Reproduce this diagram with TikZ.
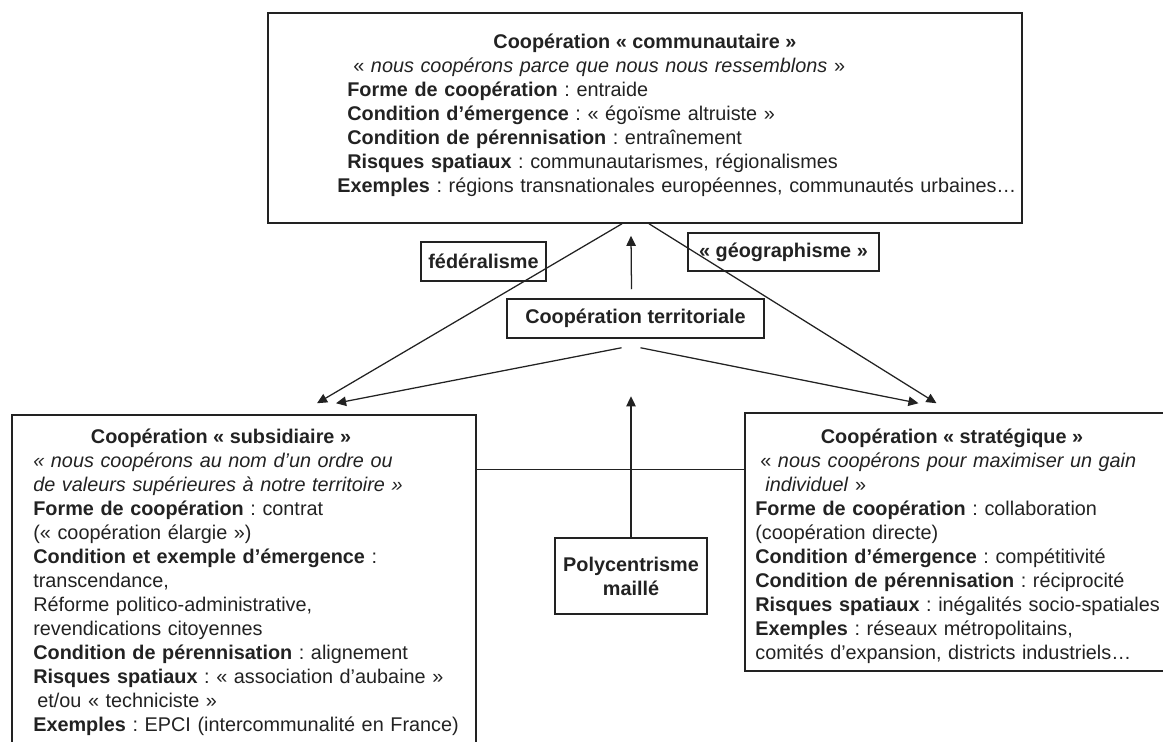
\documentclass[tikz,border=0pt]{standalone}
\usepackage{fontspec}
\setmainfont{Liberation Sans}
\usetikzlibrary{arrows.meta,calc,fit}
\newlength\unitpx
\setlength\unitpx{0.595pt}
\definecolor{ink}{HTML}{222222}
\frenchspacing

\begin{document}
\begin{tikzpicture}[
        x=0.595pt, y=-0.595pt,
        >={Triangle[length=6pt,width=5.6pt]},
        every node/.style={font=\fontsize{11.8}{14.28}\selectfont, text=ink, inner sep=0pt},
        box/.style={draw=ink, line width=0.9pt},
        tag/.style={draw=ink, line width=0.9pt, font=\fontsize{11.8}{14.28}\selectfont\bfseries, align=center},
        head/.style={anchor=base, font=\fontsize{11.8}{14.28}\selectfont\bfseries},
        body/.style={anchor=base west, align=left},
        link/.style={draw=ink, line width=0.75pt}
    ]
    \useasboundingbox (0,0) rectangle (1163,742);

    % the three kinds of cooperation
    \node[box, fit={(268,13) (1022,223)}] (communautaire) {};
    \node[box, fit={(12,415) (476,760)}] (subsidiaire) {};
    \node[box, fit={(745,413) (1180,671)}] (strategique) {};

    \node[head] (communautaire-titre) at (645,49) {Coopération « communautaire »};
    \node[body, text width=740\unitpx] (communautaire-texte) at (337,73) {%
        \hspace*{16\unitpx}« \textit{nous coopérons parce que nous nous ressemblons} »\\
        \hspace*{10\unitpx}\textbf{Forme de coopération} : entraide\\
        \hspace*{10\unitpx}\textbf{Condition d’émergence} : « égoïsme altruiste »\\
        \hspace*{10\unitpx}\textbf{Condition de pérennisation} : entraînement\\
        \hspace*{10\unitpx}\textbf{Risques spatiaux} : communautarismes, régionalismes\\
        \textbf{Exemples} : régions transnationales européennes, communautés urbaines…};

    \node[head] (subsidiaire-titre) at (221,443) {Coopération « subsidiaire »};
    \node[body, text width=460\unitpx] (subsidiaire-texte) at (33,467) {%
        \textit{« nous coopérons au nom d’un ordre ou}\\
        \textit{de valeurs supérieures à notre territoire »}\\
        \textbf{Forme de coopération} : contrat\\
        (« coopération élargie »)\\
        \textbf{Condition et exemple d’émergence} :\\
        transcendance,\\
        Réforme politico-administrative,\\
        revendications citoyennes\\
        \textbf{Condition de pérennisation} : alignement\\
        \textbf{Risques spatiaux} : « association d’aubaine »\\
        \hspace*{4\unitpx}et/ou « techniciste »\\
        \textbf{Exemples} : EPCI (intercommunalité en France)};

    \node[head] (strategique-titre) at (952,443) {Coopération « stratégique »};
    \node[body, text width=440\unitpx] (strategique-texte) at (755,467) {%
        \hspace*{5\unitpx}« \textit{nous coopérons pour maximiser un gain}\\
        \hspace*{10\unitpx}\textit{individuel} »\\
        \textbf{Forme de coopération} : collaboration\\
        (coopération directe)\\
        \textbf{Condition d’émergence} : compétitivité\\
        \textbf{Condition de pérennisation} : réciprocité\\
        \textbf{Risques spatiaux} : inégalités socio-spatiales\\
        \textbf{Exemples} : réseaux métropolitains,\\
        comités d’expansion, districts industriels…};

    % labels in the middle
    \node[tag, minimum width=125\unitpx, minimum height=39\unitpx] (federalisme) at (483.5,261.5) {fédéralisme};
    \node[tag, minimum width=191\unitpx, minimum height=38\unitpx] (geographisme) at (783.5,252) {« géographisme »};
    \node[tag, minimum width=257\unitpx, minimum height=39\unitpx] (territoriale) at (635.5,318.5) {Coopération territoriale};
    \node[tag, minimum width=152\unitpx, minimum height=76\unitpx] (polycentrisme) at (631,576) {Polycentrisme\\maillé};

    % connectors
    \draw[link,->] ($(communautaire.south)+(-23,0)$) -- ($(subsidiaire.north)+(73,-11)$);
    \draw[link,->] ($(communautaire.south)+(4,0)$) -- ($(strategique.north)+(-26,-9)$);
    \draw[link,->] ($(territoriale.north)+(-4,-9)$) -- ($(communautaire.south)+(-14,12)$);
    \draw[link,->] ($(territoriale.south)+(-14,9)$) -- ($(subsidiaire.north)+(92,-11)$);
    \draw[link,->] ($(territoriale.south)+(5,9)$) -- ($(strategique.north)+(-44,-9)$);
    \coordinate (polycentrisme-pointe) at ($(polycentrisme.north)+(0,-141)$);
    \draw[link,->] (polycentrisme.north) -- (polycentrisme-pointe);
    \coordinate (trait) at ($(subsidiaire.north east)+(0,55)$);
    \draw[link] (trait) -- (trait -| strategique.west);
\end{tikzpicture}
\end{document}
